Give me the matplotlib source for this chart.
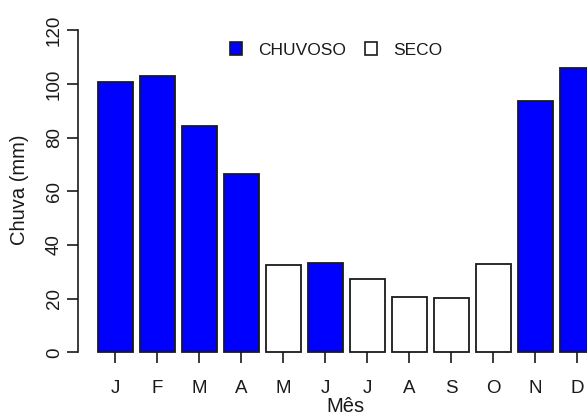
import matplotlib.pyplot as plt
from matplotlib.patches import Patch
import numpy as np

plt.rcParams['font.family'] = ['Liberation Sans', 'DejaVu Sans']

meses = ['J', 'F', 'M', 'A', 'M', 'J', 'J', 'A', 'S', 'O', 'N', 'D']
chuva = [100.8, 103.0, 84.3, 66.6, 32.6, 33.4, 27.2, 20.5, 20.3, 32.9, 93.6, 106.0]
estacao = ['CHUVOSO', 'CHUVOSO', 'CHUVOSO', 'CHUVOSO', 'SECO', 'CHUVOSO',
           'SECO', 'SECO', 'SECO', 'SECO', 'CHUVOSO', 'CHUVOSO']
cores = {'CHUVOSO': '#0000ff', 'SECO': 'white'}

W, H = 587, 416
fig = plt.figure(figsize=(W / 100, H / 100), dpi=100)
# plot region runs past the right edge (cropped like the original)
ax = fig.add_axes([77.7 / W, 1 - 365.2 / H, (615 - 77.7) / W, (365.2 - 17.4) / H])

# barplot style positions: width 1, space 0.2
x = 0.7 + 1.2 * np.arange(len(chuva))
ax.bar(x, chuva, width=1.0, color=[cores[e] for e in estacao],
       edgecolor='#1a1a1a', linewidth=1.3)

ax.set_xlim(-0.376, 14.976)
ax.set_ylim(-4.8, 124.8)

for s in ['top', 'right']:
    ax.spines[s].set_visible(False)
ax.spines['left'].set_bounds(0, 120)
ax.spines['left'].set_linewidth(1.2)
ax.spines['left'].set_color('#1a1a1a')
ax.spines['bottom'].set_position(('data', 0))
ax.spines['bottom'].set_color('none')

ax.set_yticks([0, 20, 40, 60, 80, 100, 120])
ax.set_xticks(x)
ax.set_xticklabels(meses)
ax.tick_params(axis='y', length=8, width=1.2, color='#1a1a1a', pad=2.5, labelsize=13.5,
               labelrotation=90, labelcolor='#1a1a1a')
ax.tick_params(axis='x', length=8, width=1.2, color='#1a1a1a', pad=12, labelsize=13.5,
               labelcolor='#1a1a1a')
for t in ax.get_yticklabels():
    t.set_va('center')

fig.text(20 / W, 1 - 190 / H, 'Chuva (mm)', rotation=90, ha='center', va='center',
         fontsize=14.5, color='#1a1a1a')
fig.text(345 / W, 1 - 407 / H, 'Mês', ha='center', va='center', fontsize=14.5, color='#1a1a1a')

handles = [Patch(facecolor='#0000ff', edgecolor='#1a1a1a', linewidth=1.2),
           Patch(facecolor='white', edgecolor='#1a1a1a', linewidth=1.2)]
ax.legend(handles, ['CHUVOSO', 'SECO'], ncol=2, frameon=False, fontsize=12.5,
          labelcolor='#1a1a1a',
          loc='center', bbox_to_anchor=((336 - 77.7) / (615 - 77.7), (365.2 - 50) / 347.8),
          handlelength=0.7, handleheight=0.7, handletextpad=0.9, columnspacing=1.1)

fig.savefig('out.png', dpi=100)
